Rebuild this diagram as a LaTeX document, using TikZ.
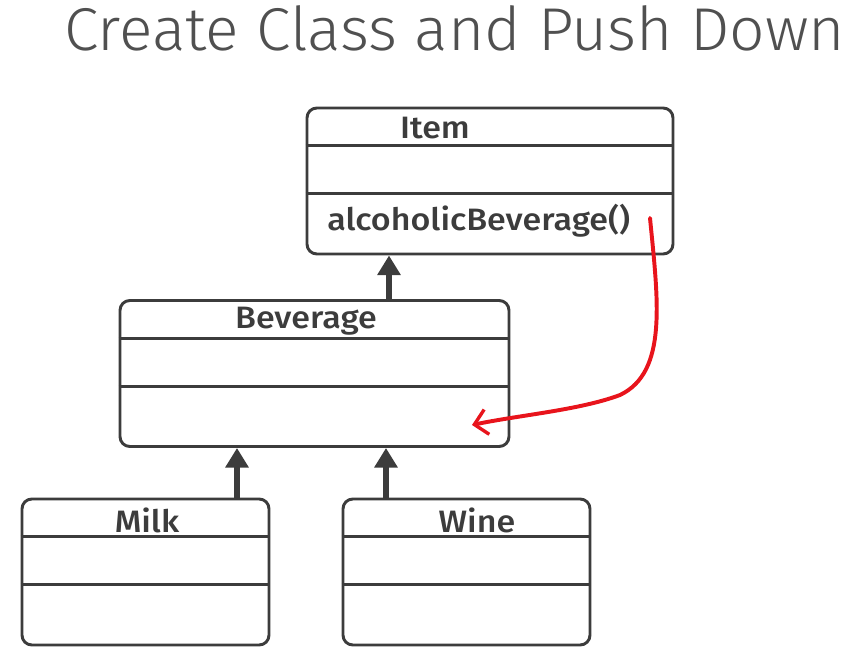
\documentclass[tikz,border=0pt]{standalone}
\usepackage{fontspec}
\setmainfont{Fira Sans}
\newfontfamily\titlefont{Fira Sans}[UprightFont=* Light, FakeStretch=1.03]
\newfontfamily\boxfont{Fira Sans}[UprightFont=* Medium, FakeStretch=1.1]
\usetikzlibrary{arrows.meta}
\definecolor{umlgray}{HTML}{3C3C3C}
\definecolor{titlegray}{HTML}{505050}
\definecolor{penred}{HTML}{E8141C}
\tikzset{
	classbox/.style={draw=umlgray, line width=2.1pt, rounded corners=7pt, minimum height=3.65cm, inner sep=0pt},
	divider/.style={draw=umlgray, line width=2.1pt},
	classname/.style={font=\boxfont\fontsize{22}{25}\selectfont, text=umlgray, inner sep=0pt},
	inherit/.style={draw=umlgray, line width=4.3pt, -{Triangle[length=14pt, width=16pt]}},
	pushdown/.style={draw=penred, line width=2.8pt, line cap=round, -{Straight Barb[length=9pt, width=18pt, line width=2.4pt]}}
}
\begin{document}
\begin{tikzpicture}
	\useasboundingbox (0,0) rectangle (21.175,-16.425);
	\node[font=\titlefont\fontsize{43}{48}\selectfont, text=titlegray, inner sep=0pt] (title) at (11.375,-0.72) {Create Class and Push Down};

	% classes
	\node[classbox, minimum width=9.15cm] (item) at (12.25,-4.525) {};
	\node[classbox, minimum width=9.725cm] (beverage) at (7.8625,-9.3375) {};
	\node[classbox, minimum width=6.175cm] (milk) at (3.6375,-14.3) {};
	\node[classbox, minimum width=6.175cm] (wine) at (11.6625,-14.3) {};

	\foreach \cls in {item, beverage, milk, wine} {
		\draw[divider] ([yshift=-0.975cm]\cls.north west) -- ([yshift=-0.975cm]\cls.north east);
		\draw[divider] ([yshift=-2.175cm]\cls.north west) -- ([yshift=-2.175cm]\cls.north east);
	}

	\node[classname] (itemname) at (10.875,-3.2) {Item};
	\node[classname] (beveragename) at (7.65,-8.025) {Beverage};
	\node[classname] (milkname) at (3.675,-13.0) {Milk};
	\node[classname] (winename) at (11.925,-13.0) {Wine};
	\node[classname, anchor=west] (method) at (8.175,-5.525) {alcoholicBeverage()};

	% generalisation
	\draw[inherit] (beverage.north -| 9.725,0) -- (item.south -| 9.725,0);
	\draw[inherit] (milk.north -| 5.925,0) -- (beverage.south -| 5.925,0);
	\draw[inherit] (wine.north -| 9.65,0) -- (beverage.south -| 9.65,0);

	% push down
	\coordinate (pushfrom) at (16.25,-5.45);
	\coordinate (pushto) at (11.8,-10.625);
	\draw[pushdown] (pushfrom) .. controls (16.45,-7.5) and (16.7,-9.3) .. (15.5,-9.875) .. controls (14.5,-10.25) and (13.0,-10.375) .. (pushto);
\end{tikzpicture}
\end{document}
